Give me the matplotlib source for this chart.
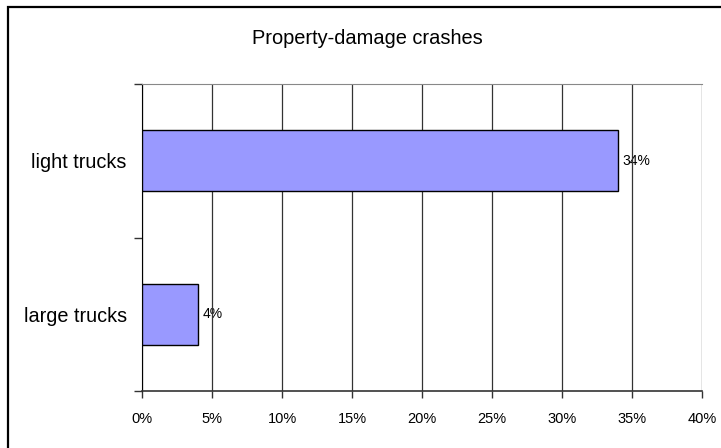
import numpy as np
import matplotlib.pyplot as plt
from matplotlib.patches import Rectangle
from matplotlib.ticker import FuncFormatter

categories = ["large trucks", "light trucks"]
shares = [4, 34]
x_ticks = [0, 5, 10, 15, 20, 25, 30, 35, 40]

plt.rcParams['font.family'] = ['Liberation Sans', 'DejaVu Sans']

fig = plt.figure(figsize=(7.21, 4.48), dpi=100)
ax = fig.add_axes([0.197, 0.1272, 0.7766, 0.6853])

# chart frame: only left and top edges fall inside the canvas
fig.patches.append(Rectangle((7.5 / 721, -20 / 448), 740 / 721, 461 / 448,
                             transform=fig.transFigure, fill=False,
                             edgecolor='black', linewidth=1.6))

y = np.arange(len(categories))
ax.barh(y, shares, height=0.4, color='#9999ff', edgecolor='black', linewidth=1, zorder=3)
for yi, v in zip(y, shares):
    ax.text(v + 0.35, yi, f"{v}%", va='center', ha='left', fontsize=10, zorder=1)

ax.set_xlim(0, 40)
ax.set_ylim(-0.5, 1.5)
ax.set_xticks(x_ticks)
ax.xaxis.set_major_formatter(FuncFormatter(lambda v, p: f"{v:.0f}%"))
ax.tick_params(axis='x', labelsize=10.5, length=5, width=1, color='#333333', pad=10)
ax.grid(axis='x', color='#333333', linewidth=0.9, zorder=2)

# category labels between boundary ticks
ax.set_yticks([-0.5, 0.5, 1.5])
ax.set_yticklabels([])
ax.set_yticks(y, minor=True)
ax.set_yticklabels(categories, minor=True, fontsize=14.3)
ax.tick_params(axis='y', which='minor', length=0, pad=11)
ax.tick_params(axis='y', which='major', length=6, width=1, color='#333333')

ax.spines['left'].set_color('black')
ax.spines['bottom'].set_color('#333333')
ax.spines['bottom'].set_linewidth(1.2)
ax.spines['top'].set_color('#888888')
ax.spines['right'].set_visible(False)

fig.text(0.509, 0.915, "Property-damage crashes", ha='center', va='center', fontsize=14.4)

fig.savefig("out.png", dpi=100)
